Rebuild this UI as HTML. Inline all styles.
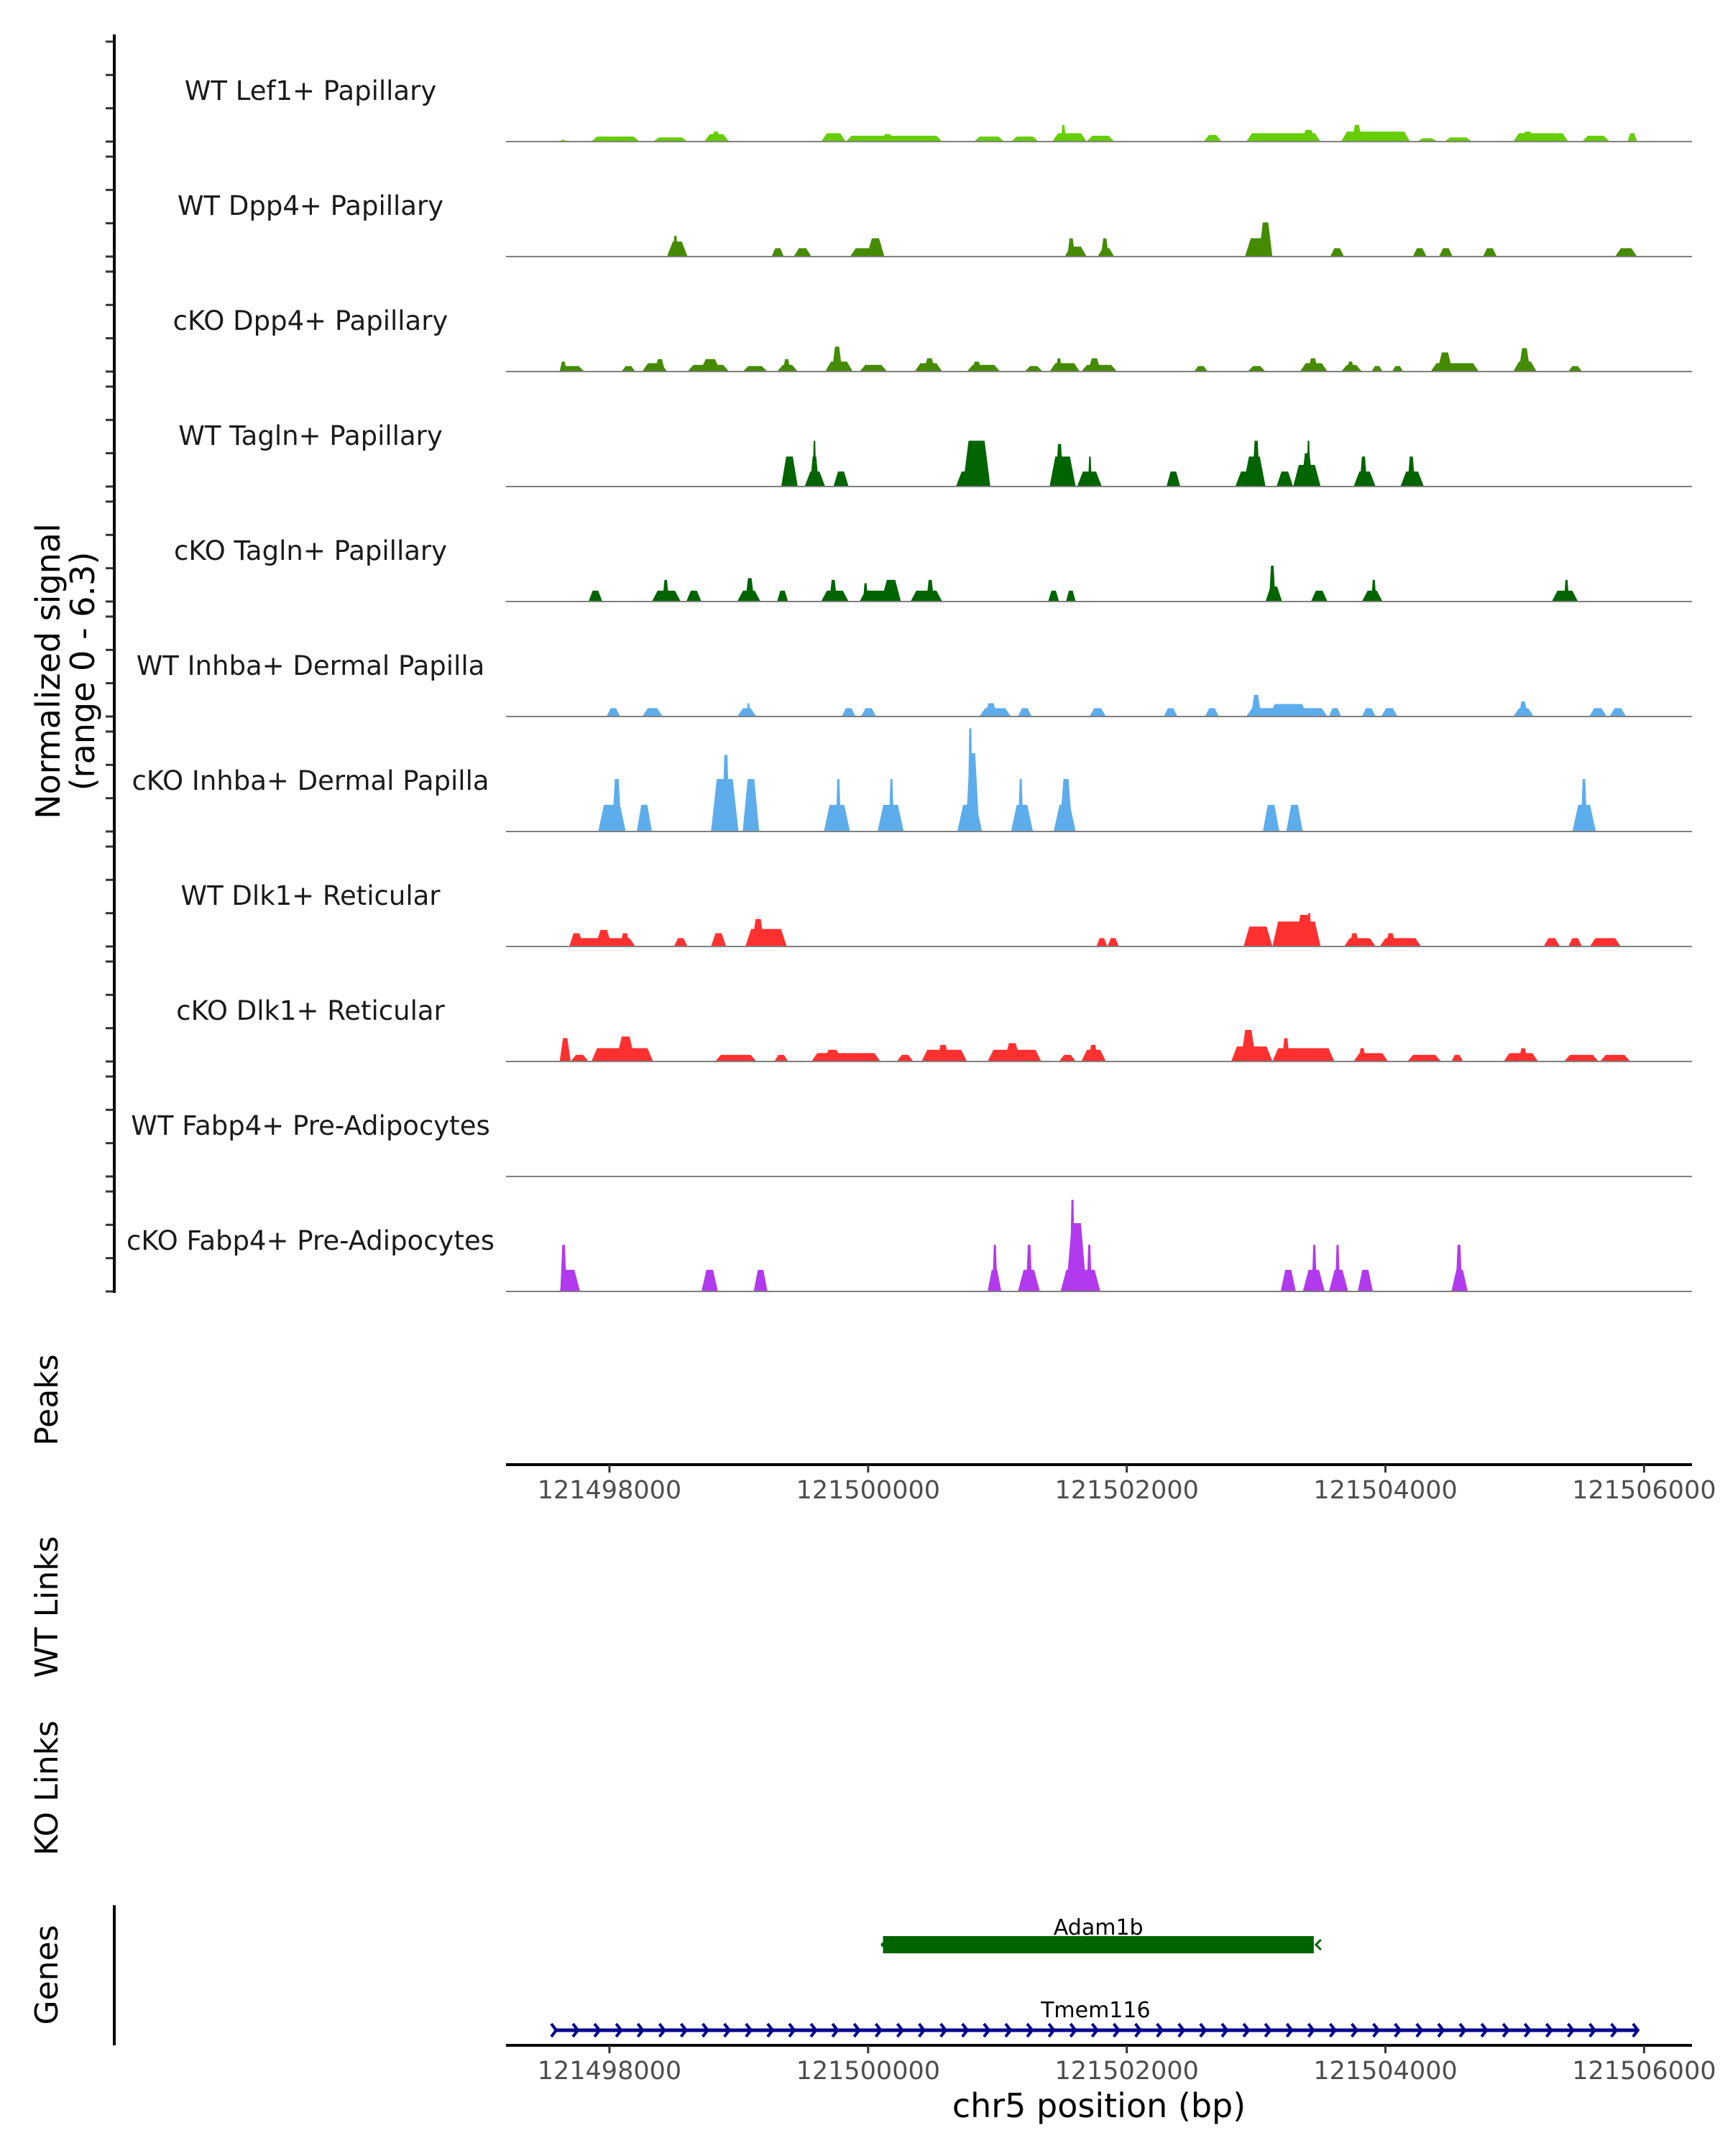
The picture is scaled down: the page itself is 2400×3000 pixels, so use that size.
<!DOCTYPE html>
<html><head><meta charset="utf-8"><style>
html,body{margin:0;padding:0;background:#fff;}
svg{display:block;font-family:"DejaVu Sans","Liberation Sans",sans-serif;}
</style></head><body>
<svg id="chart" width="2400" height="3000" viewBox="0 0 2400 3000" xmlns="http://www.w3.org/2000/svg">
<g id="tracks"></g>
<g id="axes"></g>
<g id="genes"></g>
</svg>
<script>
// ---- data (positions in bp offset from regionStart; values in normalized signal) ----
const regionStart = 121497200;
const regionEnd = 121506370;
const yMax = 6.3;
const trackNames = ["WT Lef1+ Papillary","WT Dpp4+ Papillary","cKO Dpp4+ Papillary","WT Tagln+ Papillary","cKO Tagln+ Papillary","WT Inhba+ Dermal Papilla","cKO Inhba+ Dermal Papilla","WT Dlk1+ Reticular","cKO Dlk1+ Reticular","WT Fabp4+ Pre-Adipocytes","cKO Fabp4+ Pre-Adipocytes"];
const trackColors = ["#66CD00","#458B00","#458B00","#006400","#006400","#5DADEC","#5DADEC","#FF3030","#FF3030","#B23AEE","#B23AEE"];
const xTicks = [121498000,121500000,121502000,121504000,121506000];
// segments: [start, end, value]
const lef1WT = [[415,468,0.1],[660,1032,0.3],[1138,1404,0.25],[1532,1724,0.45],[1585,1660,0.6],[2437,2628,0.5],[2628,3373,0.35],[2900,3000,0.45],[3618,3852,0.3],[3905,4118,0.3],[4224,4490,0.5],[4290,4330,1.0],[4490,4703,0.35],[5394,5533,0.4],[5724,6299,0.5],[6150,6260,0.7],[6458,6990,0.6],[6540,6620,1.0],[7044,7203,0.2],[7256,7469,0.25],[7788,8214,0.5],[7850,7950,0.6],[8320,8533,0.35],[8672,8746,0.5]];
const dpp4WT = [[1245,1404,0.9],[1290,1330,1.25],[2054,2149,0.5],[2224,2362,0.5],[2660,2926,0.5],[2788,2926,1.1],[4320,4490,0.6],[4340,4400,1.1],[4575,4703,0.5],[4600,4660,1.1],[5714,5926,1.1],[5820,5926,2.05],[6373,6480,0.5],[7012,7118,0.5],[7214,7320,0.5],[7554,7661,0.5],[8576,8746,0.5]];
const dpp4KO = [[415,606,0.33],[415,470,0.6],[894,1000,0.33],[1053,1245,0.5],[1150,1230,0.75],[1404,1724,0.4],[1500,1660,0.75],[1830,2022,0.33],[2096,2256,0.4],[2140,2200,0.75],[2468,2681,0.6],[2520,2600,1.5],[2734,2947,0.4],[3160,3373,0.5],[3230,3320,0.8],[3564,3820,0.4],[3600,3680,0.6],[4011,4150,0.33],[4203,4437,0.5],[4250,4300,0.8],[4448,4724,0.4],[4500,4600,0.8],[5320,5426,0.33],[5735,5873,0.33],[6139,6352,0.5],[6200,6280,0.8],[6458,6618,0.4],[6500,6560,0.6],[6693,6778,0.33],[6852,6937,0.33],[7150,7522,0.5],[7200,7320,1.15],[7788,7969,0.6],[7830,7920,1.4],[8214,8320,0.33]];
const taglnWT = [[2128,2256,1.8],[2309,2468,0.9],[2350,2420,1.8],[2370,2400,2.75],[2532,2649,0.9],[3479,3745,0.9],[3532,3745,2.75],[4203,4405,1.8],[4250,4310,2.55],[4416,4607,0.9],[4500,4530,1.8],[5107,5214,0.9],[5639,5873,0.9],[5700,5873,1.8],[5770,5830,2.75],[5958,6086,0.9],[6086,6299,1.3],[6150,6240,2.0],[6190,6220,2.75],[6554,6724,0.9],[6600,6660,1.8],[6916,7097,0.9],[6970,7030,1.8]];
const taglnKO = [[638,745,0.65],[1128,1351,0.65],[1210,1260,1.3],[1394,1511,0.65],[1788,1968,0.65],[1850,1920,1.4],[2096,2181,0.65],[2437,2649,0.65],[2500,2560,1.3],[2734,3054,0.65],[2760,2800,1.1],[2900,3054,1.3],[3128,3373,0.65],[3250,3310,1.3],[4192,4277,0.65],[4330,4405,0.65],[5873,6001,0.9],[5900,5950,2.15],[6224,6352,0.65],[6618,6778,0.65],[6690,6730,1.3],[8086,8289,0.65],[8180,8220,1.3]];
const inhbaWT = [[777,883,0.5],[1053,1213,0.5],[1788,1936,0.5],[1860,1890,0.8],[2596,2703,0.5],[2745,2862,0.5],[3660,3905,0.5],[3700,3800,0.8],[3958,4064,0.5],[4511,4639,0.5],[5086,5192,0.5],[5405,5512,0.5],[5724,6352,0.5],[5760,5840,1.3],[5900,6200,0.75],[6363,6458,0.5],[6618,6724,0.5],[6767,6895,0.5],[7788,7948,0.5],[7830,7900,0.9],[8374,8512,0.5],[8533,8661,0.5]];
const inhbaKO = [[713,926,1.6],[819,894,3.15],[1011,1128,1.6],[1585,1798,3.15],[1670,1730,4.6],[1830,1958,3.15],[2458,2660,1.6],[2550,2590,3.15],[2873,3075,1.6],[2960,3000,3.15],[3490,3681,1.6],[3554,3660,4.7],[3570,3610,6.2],[3905,4075,1.6],[3960,4000,3.15],[4235,4405,1.6],[4280,4380,3.15],[5852,5980,1.6],[6033,6161,1.6],[8246,8427,1.6],[8310,8360,3.15]];
const dlk1WT = [[489,1000,0.5],[489,600,0.8],[692,819,1.0],[880,960,0.8],[1298,1404,0.5],[1585,1702,0.8],[1851,2171,1.05],[1900,2000,1.65],[4565,4650,0.5],[4650,4739,0.5],[5703,5926,1.2],[5926,6299,1.5],[6100,6240,1.9],[6190,6230,2.0],[6480,6724,0.5],[6520,6600,0.8],[6756,7076,0.5],[6800,6880,0.8],[8023,8150,0.5],[8214,8320,0.5],[8380,8620,0.5]];
const dlk1KO = [[415,500,1.4],[500,638,0.4],[660,1138,0.8],[850,1000,1.5],[1617,1936,0.4],[2075,2181,0.4],[2362,2894,0.5],[2450,2600,0.7],[3022,3149,0.4],[3213,3564,0.7],[3330,3430,1.0],[3724,4139,0.7],[3850,3980,1.1],[4277,4405,0.4],[4448,4639,0.7],[4500,4580,1.0],[5607,5926,0.9],[5680,5800,1.9],[5926,6405,0.8],[6000,6060,1.4],[6554,6820,0.5],[6590,6650,0.8],[6970,7230,0.4],[7310,7400,0.4],[7714,7980,0.5],[7830,7900,0.8],[8182,8448,0.4],[8459,8693,0.4]];
const fabp4WT = [];
const fabp4KO = [[415,573,1.3],[420,470,2.8],[1511,1639,1.3],[1915,2022,1.3],[3724,3830,1.3],[3760,3800,2.8],[3958,4128,1.3],[4020,4070,2.8],[4288,4596,1.3],[4330,4490,4.1],[4360,4400,5.5],[4490,4530,2.8],[5990,6107,1.3],[6161,6331,1.3],[6230,6270,2.8],[6363,6512,1.3],[6410,6450,2.8],[6586,6703,1.3],[7310,7437,1.3],[7342,7395,2.8]];
const trackData = [lef1WT,dpp4WT,dpp4KO,taglnWT,taglnKO,inhbaWT,inhbaKO,dlk1WT,dlk1KO,fabp4WT,fabp4KO];
const geneNames = ["Adam1b","Tmem116"];
const geneStarts = [121500115,121497572];
const geneEnds = [121503446,121505946];
const geneStrands = ["-","+"];

// ---- layout ----
const NS="http://www.w3.org/2000/svg";
const plotL=704, plotR=2354;
const base0=197, trackStep=160, trackH=146;
function xs(bp){return plotL+(bp-regionStart)/(regionEnd-regionStart)*(plotR-plotL);}
function ys(i,v){return base0+i*trackStep - v/yMax*trackH;}
function mk(tag,attrs,parent){const e=document.createElementNS(NS,tag);for(const k in attrs)e.setAttribute(k,attrs[k]);parent.appendChild(e);return e;}
const gT=document.getElementById('tracks'), gA=document.getElementById('axes'), gG=document.getElementById('genes');

trackNames.forEach((name,i)=>{
  const base=base0+i*trackStep;
  const g=mk('g',{},gT);
  
  
  const lab=mk('text',{x:432,y:base-58,'font-size':37,'text-anchor':'middle',fill:'#1a1a1a'},g);
  lab.textContent=name;
  
  
  trackData[i].forEach(s=>{
    const x0=xs(regionStart+s[0]), x1=xs(regionStart+s[1]);
    const w=x1-x0, r=Math.min(w*0.3,8);
    const yt=ys(i,s[2]);
    const p=mk('polygon',{points:`${x0},${base} ${x0+r},${yt} ${x1-r},${yt} ${x1},${base}`,fill:trackColors[i]},g);
    
    
  });
  const bl=mk('line',{x1:plotL,x2:plotR,y1:base,y2:base,stroke:'#7f7f7f','stroke-width':2},g);
  
  
  for(let k=0;k<=3;k++){
    const ty=ys(i,k*2);
    const t=mk('line',{x1:147,x2:159,y1:ty,y2:ty,stroke:'#333','stroke-width':3},gA);
    
    
  }
});
// y axis
const ya=mk('line',{x1:159,x2:159,y1:48,y2:1799,stroke:'#000','stroke-width':4},gA);


function rotLabel(text,x,y,size,name){
  const t=mk('text',{x:x,y:y,'font-size':size,'text-anchor':'middle',transform:`rotate(-90 ${x} ${y})`,fill:'#000'},gA);
  t.textContent=text;
  
  
}
rotLabel('Normalized signal',83,934,46,'y-axis-title');
rotLabel('(range 0 - 6.3)',131,934,46,'y-axis-range');
rotLabel('Peaks',80,1948,44,'peaks-label');
rotLabel('WT Links',80,2236,44,'wt-links-label');
rotLabel('KO Links',80,2488,44,'ko-links-label');
rotLabel('Genes',80,2748,44,'genes-label');

function xAxis(y,name){
  const l=mk('line',{x1:plotL,x2:plotR,y1:y,y2:y,stroke:'#000','stroke-width':4},gA);
  
  
  xTicks.forEach(v=>{
    const x=xs(v);
    const t=mk('line',{x1:x,x2:x,y1:y,y2:y+11,stroke:'#333','stroke-width':3},gA);
    
    
    const tl=mk('text',{x:x,y:y+47,'font-size':35,'text-anchor':'middle',fill:'#4d4d4d'},gA);
    tl.textContent=String(v);
    
    
  });
}
xAxis(2038,'peaks-x-axis');
xAxis(2846,'x-axis');
const xt=mk('text',{x:1529,y:2946,'font-size':46,'text-anchor':'middle',fill:'#000'},gA);
xt.textContent='chr5 position (bp)';


const ga=mk('line',{x1:159,x2:159,y1:2651,y2:2846,stroke:'#000','stroke-width':4},gA);



// genes
const geneY=[2706,2825];
geneNames.forEach((n,i)=>{
  const g=mk('g',{},gG);
  
  
  const x0=xs(geneStarts[i]), x1=xs(geneEnds[i]), y=geneY[i];
  if(i===0){
    mk('rect',{x:x0,y:y-12,width:x1-x0,height:24,fill:'#006400'},g);
    mk('polyline',{points:`${x1+10},${y-7} ${x1+3},${y} ${x1+10},${y+7}`,fill:'none',stroke:'#006400','stroke-width':3},g);
    mk('circle',{cx:x0,cy:y,r:3,fill:'#006400'},g);
  } else {
    mk('line',{x1:x0,x2:x1,y1:y,y2:y,stroke:'#00008B','stroke-width':5},g);
    for(let x=x0;x<=x1+1;x+=30.1){
      mk('polyline',{points:`${x-4},${y-9} ${x+3},${y} ${x-4},${y+9}`,fill:'none',stroke:'#00008B','stroke-width':4},g);
    }
  }
  const t=mk('text',{x:(x0+x1)/2,y:y-(i===0?14:18),'font-size':30,'text-anchor':'middle',fill:'#000'},g);
  t.textContent=n;
  
  
});
</script>
</body></html>
